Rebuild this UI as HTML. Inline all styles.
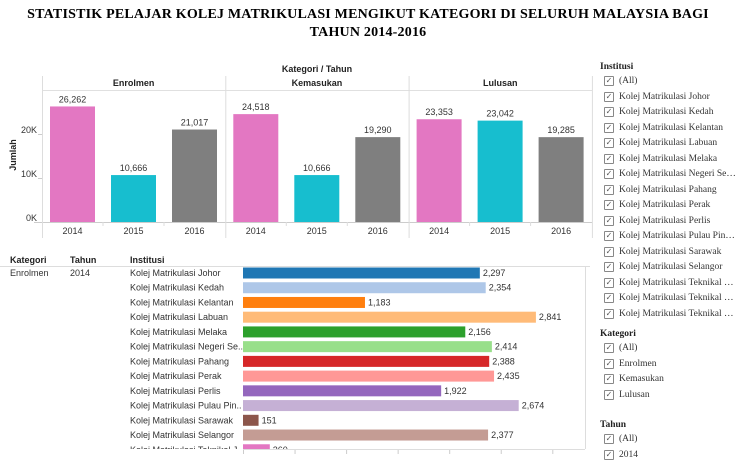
<!DOCTYPE html>
<html><head><meta charset="utf-8"><style>
body{margin:0;width:736px;height:454px;overflow:hidden;background:#fff;font-family:"Liberation Sans",sans-serif;position:relative}
.t{position:absolute;white-space:nowrap}
.serif{font-family:"Liberation Serif",serif}
.it{display:flex;align-items:center;height:12px}
.cb{display:inline-block;box-sizing:border-box;width:10px;height:10px;border:1px solid #888;border-radius:1px;margin-right:5px;font-size:8px;line-height:8px;text-align:center;color:#555;font-family:"DejaVu Sans",sans-serif}
</style></head><body>
<div class="t serif" style="left:0;width:736px;top:6px;text-align:center;font-weight:bold;font-size:14px;line-height:18px;letter-spacing:0.2px">STATISTIK PELAJAR KOLEJ MATRIKULASI MENGIKUT KATEGORI DI SELURUH MALAYSIA BAGI<br>TAHUN 2014-2016</div>
<svg id="top" width="600" height="245" style="position:absolute;left:0;top:0"></svg>
<svg id="bot" width="600" height="454" style="position:absolute;left:0;top:0"></svg>
<div id="legend"></div>
<script>
const categories=["Enrolmen","Kemasukan","Lulusan"];
const years=["2014","2015","2016"];
const enrolmen=[26262,10666,21017];
const kemasukan=[24518,10666,19290];
const lulusan=[23353,23042,19285];
const yTicks=[0,10000,20000];
const yTickLabels=["0K","10K","20K"];
const institutions=["Kolej Matrikulasi Johor","Kolej Matrikulasi Kedah","Kolej Matrikulasi Kelantan","Kolej Matrikulasi Labuan","Kolej Matrikulasi Melaka","Kolej Matrikulasi Negeri Se..","Kolej Matrikulasi Pahang","Kolej Matrikulasi Perak","Kolej Matrikulasi Perlis","Kolej Matrikulasi Pulau Pin..","Kolej Matrikulasi Sarawak","Kolej Matrikulasi Selangor","Kolej Matrikulasi Teknikal J"];
const instValues=[2297,2354,1183,2841,2156,2414,2388,2435,1922,2674,151,2377,260];
const instColors=["#1f77b4","#aec7e8","#ff7f0e","#ffbb78","#2ca02c","#98df8a","#d62728","#ff9896","#9467bd","#c5b0d5","#8c564b","#c49c94","#e377c2"];
const legInst=["(All)","Kolej Matrikulasi Johor","Kolej Matrikulasi Kedah","Kolej Matrikulasi Kelantan","Kolej Matrikulasi Labuan","Kolej Matrikulasi Melaka","Kolej Matrikulasi Negeri Se…","Kolej Matrikulasi Pahang","Kolej Matrikulasi Perak","Kolej Matrikulasi Perlis","Kolej Matrikulasi Pulau Pin…","Kolej Matrikulasi Sarawak","Kolej Matrikulasi Selangor","Kolej Matrikulasi Teknikal …","Kolej Matrikulasi Teknikal …","Kolej Matrikulasi Teknikal …"];
const legKat=["(All)","Enrolmen","Kemasukan","Lulusan"];
const legTah=["(All)","2014"];
const yearColors=["#e377c2","#17becf","#7f7f7f"];
const NS="http://www.w3.org/2000/svg";
function mk(svg,tag,attrs,text){const e=document.createElementNS(NS,tag);for(const k in attrs)e.setAttribute(k,attrs[k]);if(text!==undefined)e.textContent=text;svg.appendChild(e);return e;}
const fmt=v=>v.toLocaleString("en-US");
const T=document.getElementById("top");
const baseY=222, yScale=v=>baseY-v*0.0044;
const px0=42,pw=183.3;
const series=[enrolmen,kemasukan,lulusan];
let t=mk(T,"text",{x:317,y:72,"font-size":9,"font-weight":"bold","text-anchor":"middle",fill:"#222"},"Kategori  /  Tahun");


mk(T,"line",{x1:px0,y1:90.5,x2:592,y2:90.5,stroke:"#e0e0e0"});
mk(T,"line",{x1:px0-8,y1:baseY+0.5,x2:592,y2:baseY+0.5,stroke:"#ccc"});
mk(T,"line",{x1:px0+0.5,y1:76,x2:px0+0.5,y2:238,stroke:"#ddd"});
yTicks.forEach((v,i)=>{mk(T,"line",{x1:px0-4,y1:yScale(v)+0.5,x2:px0,y2:yScale(v)+0.5,stroke:"#ccc"});
 const l=mk(T,"text",{x:px0-5,y:yScale(v)-1,"font-size":9,"text-anchor":"end",fill:"#333"},yTickLabels[i]);
 
 });
t=mk(T,"text",{x:0,y:0,"font-size":9,"font-weight":"bold",fill:"#222",transform:"translate(16,155) rotate(-90)","text-anchor":"middle"},"Jumlah");


categories.forEach((c,ci)=>{
 const x0=px0+ci*pw;
 mk(T,"line",{x1:x0+pw+0.5,y1:76,x2:x0+pw+0.5,y2:238,stroke:"#ddd"});
 const h=mk(T,"text",{x:x0+pw/2,y:86,"font-size":9,"font-weight":"bold","text-anchor":"middle",fill:"#222"},c);
 
 
 years.forEach((y,yi)=>{
  const v=series[ci][yi];const bx=x0+8+yi*61;
  const r=mk(T,"rect",{x:bx,y:yScale(v),width:45,height:baseY-yScale(v),fill:yearColors[yi]});
  
  
  mk(T,"text",{x:bx+22.5,y:yScale(v)-4,"font-size":9,"text-anchor":"middle",fill:"#333"},fmt(v));
  const yl=mk(T,"text",{x:bx+22.5,y:234,"font-size":9,"text-anchor":"middle",fill:"#333"},y);
  
  
  if(yi>0)mk(T,"line",{x1:bx-8,y1:baseY,x2:bx-8,y2:baseY+4,stroke:"#ddd"});
 });
});
const B=document.getElementById("bot");
const bx0=243,xs=v=>v*0.1031;
[["Kategori",10],["Tahun",70],["Institusi",130]].forEach(([s,x])=>{const e=mk(B,"text",{x:x,y:263,"font-size":9,"font-weight":"bold",fill:"#222"},s);});
mk(B,"line",{x1:0,y1:266.5,x2:590,y2:266.5,stroke:"#ddd"});
mk(B,"line",{x1:585.5,y1:266,x2:585.5,y2:449,stroke:"#ddd"});
mk(B,"text",{x:10,y:276,"font-size":9,fill:"#333"},"Enrolmen");
mk(B,"text",{x:70,y:276,"font-size":9,fill:"#333"},"2014");
const clip=mk(B,"clipPath",{id:"c"});mk(clip,"rect",{x:0,y:266,width:600,height:183});
const g=mk(B,"g",{"clip-path":"url(#c)"});
institutions.forEach((n,i)=>{
 const cy=273+i*14.73;
 const l=mk(g,"text",{x:130,y:cy+3,"font-size":9,fill:"#333"},n);
 
 
 const r=mk(g,"rect",{x:bx0,y:cy-5.5,width:xs(instValues[i]),height:11,fill:instColors[i]});
 
 
 mk(g,"text",{x:bx0+xs(instValues[i])+3,y:cy+3,"font-size":9,fill:"#333"},fmt(instValues[i]));
});
for(let k=0;k<=6;k++){mk(B,"line",{x1:bx0+xs(k*500)+0.5,y1:449,x2:bx0+xs(k*500)+0.5,y2:454,stroke:"#ccc"});}
mk(B,"line",{x1:bx0,y1:449.5,x2:585,y2:449.5,stroke:"#ddd"});
const L=document.getElementById("legend");
function section(title,items,top){
 const h=document.createElement("div");h.className="t serif";h.style.cssText=`left:600px;top:${top}px;font-size:9.5px;font-weight:bold;color:#222`;h.textContent=title;
 
 
 L.appendChild(h);
 items.forEach((s,i)=>{const d=document.createElement("div");d.className="t serif it";d.style.cssText=`left:604px;top:${top+13+i*15.5}px;font-size:9.5px;color:#333`;
  d.innerHTML=`<span class="cb">✓</span><span>${s}</span>`;
  
  
  L.appendChild(d);});
}
section("Institusi",legInst,62);
section("Kategori",legKat,329);
section("Tahun",legTah,420);
</script>
</body></html>
